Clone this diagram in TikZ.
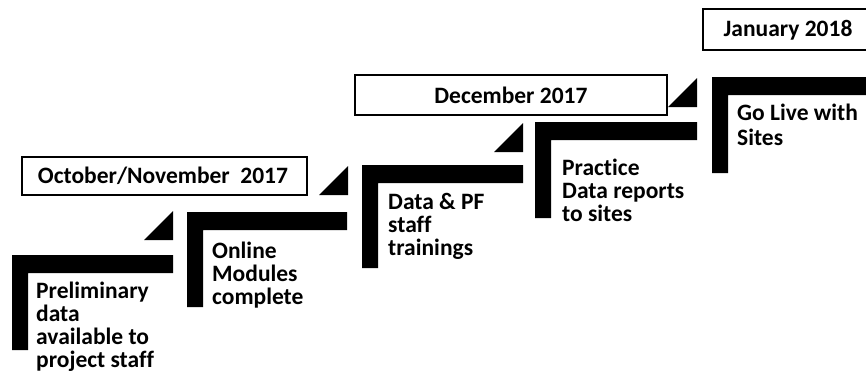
\documentclass[tikz,border=0pt]{standalone}
\usepackage{fontspec}
\setmainfont[Ligatures={NoCommon,NoContextual,NoRare}]{Carlito}
\begin{document}
\begin{tikzpicture}[x=1pt,y=-1pt,
  frame/.style={draw=black,line width=2.8pt},
  datetext/.style={inner sep=0pt,font=\bfseries\fontsize{23.5}{26}\selectfont},
  bar/.style={fill=black},
  marker/.style={fill=black},
  steptext/.style={anchor=north west,inner sep=0pt,align=left,
    font=\bfseries\fontsize{23.5}{23}\selectfont}]
\useasboundingbox (0,0) rectangle (866,383);

% date labels in framed boxes
\draw[frame] (22,157) rectangle (307,195);
\node[datetext] (oct) at (163,176) {October/November\ \ 2017};
\draw[frame] (355,75) rectangle (667,115);
\node[datetext] (dec) at (511,95) {December 2017};
\draw[frame] (703,9) rectangle (890,50);
\node[datetext] (jan) at (788,30) {January 2018};

% L-shaped stair brackets: (left, top) of bar, right end, bottom of upright
\foreach \l/\t/\r/\b in {12/255/173/350, 187/212/347/307, 362/165/523/268,
                          535/122/697/218, 712/77/880/173}{
  \fill[bar] (\l,\t) -- (\r,\t) -- (\r,\t+18) -- (\l+16,\t+18)
             -- (\l+16,\b) -- (\l,\b) -- cycle;
}

% small wedges pointing up to the next stair
\foreach \r/\b in {173/240, 348/195, 523/152, 697/107}{
  \fill[marker] (\r-29,\b) -- (\r,\b) -- (\r,\b-29) -- cycle;
}

% milestone texts
\node[steptext] (s1) at (36,282) {Preliminary\\data\\available to\\project staff};
\node[steptext] (s2) at (212,242) {Online\\Modules\\complete};
\node[steptext] (s3) at (388,193) {Data \& PF\\staff\\trainings};
\node[steptext] (s4) at (562,159) {Practice\\Data reports\\to sites};
\node[steptext,font=\bfseries\fontsize{23.5}{25}\selectfont] (s5) at (737,104) {Go Live with\\Sites};
\end{tikzpicture}
\end{document}
